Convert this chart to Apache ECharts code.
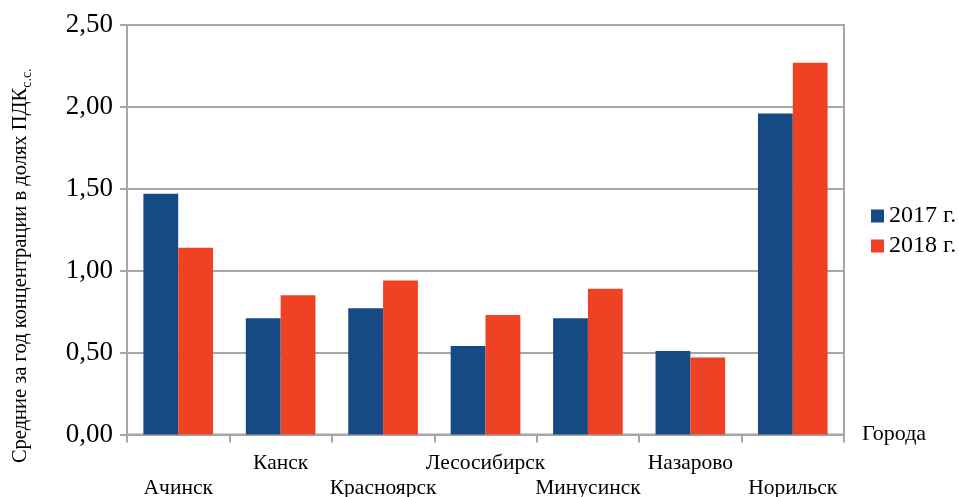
<!DOCTYPE html>
<html>
<head>
<meta charset="utf-8">
<script src="https://cdn.jsdelivr.net/npm/echarts@6/dist/echarts.min.js"></script>
<style>html,body{margin:0;padding:0;background:#fff}#c{width:959px;height:497px}</style>
</head>
<body>
<div id="c"></div>
<script>
const categories = ['Ачинск','Канск','Красноярск','Лесосибирск','Минусинск','Назарово','Норильск'];
const values2017 = [1.47, 0.71, 0.77, 0.54, 0.71, 0.51, 1.96];
const values2018 = [1.14, 0.85, 0.94, 0.73, 0.89, 0.47, 2.27];
const seriesNames = ['2017 г.','2018 г.'];
const yTicks = [0, 0.5, 1, 1.5, 2, 2.5];

const FONT = 'Liberation Serif';
const chart = echarts.init(document.getElementById('c'));
chart.setOption({
  animation: false,
  textStyle: { fontFamily: FONT, color: '#000' },
  grid: { left: 127, right: 115, top: 25, bottom: 62.5, show: true, borderColor: '#a6a6a6', borderWidth: 2, containLabel: false, outerBoundsMode: 'none' },
  legend: {
    orient: 'vertical', left: 866, top: 199, itemWidth: 13, itemHeight: 13, itemGap: 6,
    icon: 'rect',
    textStyle: { fontFamily: FONT, fontSize: 24, color: '#000' },
    data: seriesNames
  },
  xAxis: {
    type: 'category', data: categories,
    name: 'Города', nameLocation: 'end', nameGap: 18,
    nameTextStyle: { fontFamily: FONT, fontSize: 22, color: '#000', verticalAlign: 'middle' },
    axisLine: { lineStyle: { color: '#a6a6a6', width: 2 } },
    axisTick: { show: true, length: 8, lineStyle: { color: '#a6a6a6', width: 2 } },
    axisLabel: {
      interval: 0, margin: 16, fontFamily: FONT, fontSize: 21.5, color: '#000', lineHeight: 25,
      formatter: (v, i) => (i % 2 === 0 ? '\n' + v : v)
    }
  },
  yAxis: {
    type: 'value', min: yTicks[0], max: yTicks[yTicks.length - 1], interval: 0.5,
    name: '{m|Средние за год концентрации в долях ПДК}{s|с.с.}',
    nameLocation: 'middle', nameGap: 92,
    nameTextStyle: {
      padding: [0, 72, 0, 0],
      rich: {
        m: { fontFamily: FONT, fontSize: 20.5, color: '#000', lineHeight: 28 },
        s: { fontFamily: FONT, fontSize: 14, color: '#000', lineHeight: 28, padding: [12, 0, 0, 0] }
      }
    },
    axisLine: { show: true, lineStyle: { color: '#a6a6a6', width: 2 } },
    axisTick: { show: true, length: 7, lineStyle: { color: '#a6a6a6', width: 2 } },
    splitLine: { lineStyle: { color: '#a6a6a6', width: 2 } },
    axisLabel: {
      margin: 14, fontFamily: FONT, fontSize: 27, color: '#000',
      formatter: v => v.toFixed(2).replace('.', ',')
    }
  },
  series: [
    { name: seriesNames[0], type: 'bar', data: values2017, barGap: '0%', barCategoryGap: '32%', itemStyle: { color: '#164a84' } },
    { name: seriesNames[1], type: 'bar', data: values2018, barGap: '0%', barCategoryGap: '32%', itemStyle: { color: '#ef4123' } }
  ]
});
</script>
</body>
</html>
